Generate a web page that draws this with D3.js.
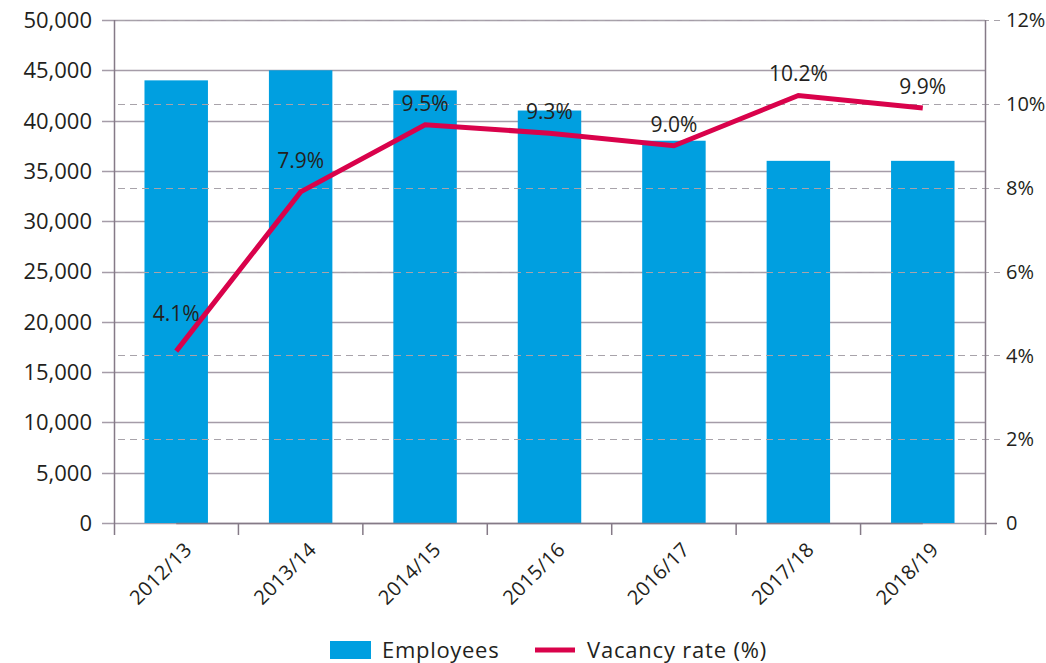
<!DOCTYPE html>
<html>
<head>
<meta charset="utf-8">
<script src="https://cdn.jsdelivr.net/npm/d3@7"></script>
<style>
  body { margin: 0; background: #fff; }
  svg text { font-family: 'Open Sans', sans-serif; fill: #231f20; }
</style>
</head>
<body>
<div id="chart"></div>
<script>
(function () {
  'use strict';

  // data
  var years = ['2012/13', '2013/14', '2014/15', '2015/16', '2016/17', '2017/18', '2018/19'];
  var employees = [44000, 45000, 43000, 41000, 38000, 36000, 36000];
  var vacancyRate = [4.1, 7.9, 9.5, 9.3, 9.0, 10.2, 9.9];
  var rateLabels = ['4.1%', '7.9%', '9.5%', '9.3%', '9.0%', '10.2%', '9.9%'];
  var leftTicks = [0, 5000, 10000, 15000, 20000, 25000, 30000, 35000, 40000, 45000, 50000];
  var rightTicks = [0, 2, 4, 6, 8, 10, 12];

  const COLORS = {
    BAR: '#009fe0',
    LINE: '#d9024b',
    AXIS: '#857a87',
    GRID: '#a59ca8',
    DASH: '#a8a3aa'
  };

  var width = 1046;
  var height = 663;
  var margin = { top: 20, right: 61, bottom: 140, left: 114 };
  var innerW = width - margin.left - margin.right;
  var innerH = height - margin.top - margin.bottom;

  var svg = d3.select('#chart').append('svg')
    .attr('width', width)
    .attr('height', height);

  var g = svg.append('g')
    .attr('transform', 'translate(' + margin.left + ',' + margin.top + ')');

  var x = d3.scaleBand()
    .domain(years)
    .range([0, innerW])
    .paddingInner(0.49)
    .paddingOuter(0.245);

  var yLeft = d3.scaleLinear().domain([0, 50000]).range([innerH, 0]);
  var yRight = d3.scaleLinear().domain([0, 12]).range([innerH, 0]);
  var step = x.step();
  var cx = function (d) { return x(d) + x.bandwidth() / 2; };

  // solid gridlines (left scale) with left ticks
  g.append('g')
    .selectAll('line')
    .data(leftTicks)
    .enter()
    .append('line')
    .attr('x1', -12)
    .attr('x2', innerW)
    .attr('y1', function (d) { return Math.round(yLeft(d)) + 0.5; })
    .attr('y2', function (d) { return Math.round(yLeft(d)) + 0.5; })
    .attr('stroke', COLORS.GRID)
    .attr('stroke-width', 1.3);

  // bars
  g.selectAll('.bar')
    .data(employees)
    .enter()
    .append('rect')
    .attr('class', 'bar')
    .attr('x', function (d, i) { return x(years[i]); })
    .attr('y', function (d) { return yLeft(d); })
    .attr('width', x.bandwidth())
    .attr('height', function (d) { return innerH - yLeft(d); })
    .attr('fill', COLORS.BAR);

  // dashed gridlines (right scale), drawn over the bars
  g.append('g')
    .selectAll('line')
    .data(rightTicks.filter(function (d) { return d > 0; }))
    .enter()
    .append('line')
    .attr('x1', 4)
    .attr('x2', innerW + 15)
    .attr('y1', function (d) { return Math.round(yRight(d)) + 0.5; })
    .attr('y2', function (d) { return Math.round(yRight(d)) + 0.5; })
    .attr('stroke', COLORS.DASH)
    .attr('stroke-width', 1.2)
    .attr('stroke-dasharray', '7,5');

  // axis lines
  g.append('line')
    .attr('x1', 0.5).attr('x2', 0.5)
    .attr('y1', 0).attr('y2', innerH + 12)
    .attr('stroke', COLORS.AXIS).attr('stroke-width', 1.5);
  g.append('line')
    .attr('x1', innerW + 0.5).attr('x2', innerW + 0.5)
    .attr('y1', 0).attr('y2', innerH + 12)
    .attr('stroke', COLORS.AXIS).attr('stroke-width', 1.5);
  g.append('line')
    .attr('x1', cx(years[0])).attr('x2', cx(years[years.length - 1]))
    .attr('y1', innerH + 0.5).attr('y2', innerH + 0.5)
    .attr('stroke', COLORS.AXIS).attr('stroke-width', 1.5);
  g.append('line')
    .attr('x1', innerW).attr('x2', innerW + 12)
    .attr('y1', innerH + 0.5).attr('y2', innerH + 0.5)
    .attr('stroke', COLORS.AXIS).attr('stroke-width', 1.5);

  // x ticks between categories
  g.append('g')
    .selectAll('line')
    .data(years.slice(1))
    .enter()
    .append('line')
    .attr('x1', function (d) { return x(d) - (step - x.bandwidth()) / 2; })
    .attr('x2', function (d) { return x(d) - (step - x.bandwidth()) / 2; })
    .attr('y1', innerH)
    .attr('y2', innerH + 12)
    .attr('stroke', COLORS.AXIS)
    .attr('stroke-width', 1.5);

  // left axis labels
  g.append('g')
    .selectAll('text')
    .data(leftTicks)
    .enter()
    .append('text')
    .attr('x', -22)
    .attr('y', function (d) { return yLeft(d); })
    .attr('dy', '0.36em')
    .attr('text-anchor', 'end')
    .style('font-size', '22px')
    .text(function (d) { return d3.format(',')(d); });

  // right axis labels
  g.append('g')
    .selectAll('text')
    .data(rightTicks)
    .enter()
    .append('text')
    .attr('x', innerW + 21)
    .attr('y', function (d) { return yRight(d); })
    .attr('dy', '0.36em')
    .style('font-size', '20px')
    .text(function (d) { return d === 0 ? '0' : d + '%'; });

  // x labels, rotated
  g.append('g')
    .selectAll('text')
    .data(years)
    .enter()
    .append('text')
    .attr('transform', function (d) {
      return 'translate(' + (cx(d) + 7) + ',' + (innerH + 18) + ') rotate(-45)';
    })
    .attr('text-anchor', 'end')
    .attr('dy', '0.7em')
    .style('font-size', '20px')
    .style('letter-spacing', '0.3px')
    .text(function (d) { return d; });

  // vacancy line
  var line = d3.line()
    .x(function (d, i) { return cx(years[i]); })
    .y(function (d) { return yRight(d); });

  g.append('path')
    .datum(vacancyRate)
    .attr('d', line)
    .attr('fill', 'none')
    .attr('stroke', COLORS.LINE)
    .attr('stroke-width', 5);

  // value labels
  var labelOffset = [30, 24, 14, 14, 14, 14, 14];
  g.append('g')
    .selectAll('text')
    .data(vacancyRate)
    .enter()
    .append('text')
    .attr('x', function (d, i) { return cx(years[i]); })
    .attr('y', function (d, i) { return yRight(d) - labelOffset[i]; })
    .attr('text-anchor', 'middle')
    .style('font-size', '21px')
    .text(function (d, i) { return rateLabels[i]; });

  // legend
  var legend = svg.append('g');
  legend.append('rect')
    .attr('x', 330).attr('y', 641)
    .attr('width', 41).attr('height', 18)
    .attr('fill', COLORS.BAR);
  legend.append('text')
    .attr('x', 382).attr('y', 658)
    .style('font-size', '22px')
    .style('letter-spacing', '0.7px')
    .text('Employees');
  legend.append('line')
    .attr('x1', 535).attr('x2', 575)
    .attr('y1', 650).attr('y2', 650)
    .attr('stroke', COLORS.LINE)
    .attr('stroke-width', 5);
  legend.append('text')
    .attr('x', 587).attr('y', 658)
    .style('font-size', '22px')
    .style('letter-spacing', '0.8px')
    .text('Vacancy rate (%)');
}());
</script>
</body>
</html>
